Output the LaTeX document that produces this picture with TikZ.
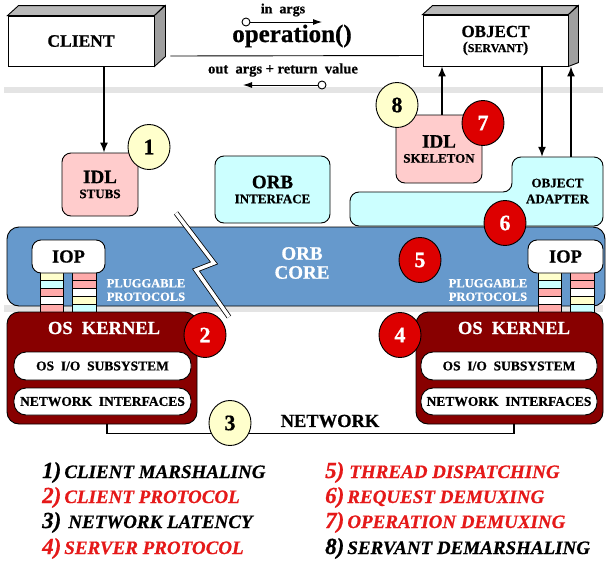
\documentclass[tikz,border=0pt]{standalone}
\usepackage{fontspec}
\setmainfont[BoldFeatures={FakeBold=0.7},BoldItalicFeatures={FakeBold=0.7}]{Liberation Serif}
\usepackage{tikz}
\usetikzlibrary{calc,positioning,shapes.geometric,arrows.meta}

\definecolor{stubpink}{HTML}{FFCCCC}
\definecolor{stripepink}{HTML}{FFAAAA}
\definecolor{orbcyan}{HTML}{CCFFFF}
\definecolor{tagyellow}{HTML}{FFFFCC}
\definecolor{tagred}{HTML}{DD0000}
\definecolor{corecolor}{HTML}{6699CC}
\definecolor{kernelred}{HTML}{880000}
\definecolor{legendred}{HTML}{E51919}
\definecolor{bandgray}{HTML}{E4E4E4}

\begin{document}
\begin{tikzpicture}[x=1pt,y=-1pt]
    \newcommand*{\fsz}[1]{\fontsize{#1}{#1}\selectfont}
    \tikzstyle{front face}=[draw, fill=white, line width=0.9pt, inner sep=0pt, align=center, font=\bfseries];
    \tikzstyle{rounded box}=[draw, rounded corners=9pt, line width=0.9pt, inner sep=0pt, align=center, font=\bfseries];
    \tikzstyle{pill}=[rounded box, fill=white, rounded corners=12pt, font=\bfseries\fsz{13.5}];
    \tikzstyle{yellow tag}=[ellipse, draw, line width=0.9pt, fill=tagyellow, minimum width=42pt, minimum height=45pt, inner sep=0pt, font=\bfseries\fsz{22}];
    \tikzstyle{red tag}=[yellow tag, fill=tagred, text=white];
    \tikzstyle{call}=[-{Latex[length=10pt,width=8pt]}, line width=1.5pt];
    \tikzstyle{arg arrow}=[-{Latex[length=9pt,width=6pt]}, line width=0.9pt];
    \tikzstyle{arg dot}=[draw, circle, fill=white, minimum size=8pt, inner sep=0pt, line width=0.9pt];
    \tikzstyle{white label}=[text=white, align=center, font=\bfseries];
    \tikzstyle{legend}=[anchor=base west, inner sep=0pt, font=\bfseries\itshape];

    \useasboundingbox (0,0) rectangle (606,563);

    \fill[bandgray] (4,87) rectangle (603,93);
    \fill[bandgray] (4,305) rectangle (603,312);

    \node[front face, minimum width=146pt, minimum height=50pt, font=\bfseries\fsz{17.5}] (client) at (81,41) {CLIENT};
    \filldraw[fill=gray!55, line width=0.9pt] (client.north west) -- ++(11,-10) -- ++(146,0) -- (client.north east) -- cycle;
    \filldraw[fill=gray!75, line width=0.9pt] (client.north east) -- ++(11,-10) -- ++(0,51) -- (client.south east) -- cycle;

    \node[front face, minimum width=145pt, minimum height=51pt] (servant) at (495.5,40.5) {\fsz{17}OBJECT\\[3pt]\fsz{15}(\fsz{12}SERVANT\fsz{15})};
    \filldraw[fill=gray!55, line width=0.9pt] (servant.north west) -- ++(10,-9) -- ++(145,0) -- (servant.north east) -- cycle;
    \filldraw[fill=gray!75, line width=0.9pt] (servant.north east) -- ++(10,-9) -- ++(0,57) -- (servant.south east) -- cycle;

    \draw[line width=0.9pt] ([shift={(16,15)}]client.east) -- ([shift={(0,15)}]servant.west);

    \node[font=\bfseries\fsz{14}] (inArgs) at (283,10) {in\ \ args};
    \node[arg dot] (inDot) at (246,22) {};
    \coordinate (inTip) at (322,22);
    \draw[arg arrow] (inDot) -- (inTip);
    \node[font=\bfseries\fsz{25}] (operation) at (292,36) {operation()};
    \node[font=\bfseries\fsz{14.5}] (outArgs) at (283,70) {out\ \ args + return\ \ value};
    \node[arg dot] (outDot) at (322,85) {};
    \coordinate (outTip) at (243,85);
    \draw[arg arrow] (outDot) -- (outTip);

    \node[rounded box, fill=stubpink, minimum width=76pt, minimum height=63pt] (stubs) at (100,184.5) {\fsz{19}IDL\\[3pt]\fsz{13}STUBS};
    \draw[call] ([xshift=4pt]stubs.north |- client.south) -- ([xshift=4pt]stubs.north);
    \node[yellow tag] (tag1) at (149,147) {1};

    \node[rounded box, fill=orbcyan, minimum width=115pt, minimum height=67pt] (orbIface) at (272.5,189.5) {\fsz{19}ORB\\[3pt]\fsz{13}INTERFACE};

    \node[rounded box, fill=stubpink, minimum width=86pt, minimum height=68pt] (skeleton) at (439,149) {\fsz{19}IDL\\[3pt]\fsz{13}SKELETON};
    \draw[call] ([xshift=3pt]skeleton.north) -- ([xshift=3pt]skeleton.north |- servant.south);
    \node[yellow tag] (tag8) at (397,105) {8};
    \node[red tag] (tag7) at (483,123) {7};

    \filldraw[fill=orbcyan, rounded corners=9pt, line width=0.9pt] (350,226) -- (350,192) -- (512,192) -- (512,157) -- (603,157) -- (603,226) -- cycle;
    \node[align=center, font=\bfseries\fsz{13}, minimum width=91pt, minimum height=68pt, inner sep=0pt] (adapter) at (557.5,191) {OBJECT\\[3pt]ADAPTER};
    \draw[call] ([xshift=-15.5pt]adapter.north |- servant.south) -- ([xshift=-15.5pt]adapter.north);
    \draw[call] ([xshift=13.5pt]adapter.north) -- ([xshift=13.5pt]adapter.north |- servant.south);

    \node[draw, fill=corecolor, rounded corners=12pt, minimum width=598pt, minimum height=79pt, line width=0.9pt] (core) at (306,266.5) {};
    \node[white label, font=\bfseries\fsz{19}] (coreLabel) at (302,263) {ORB\\CORE};
    \draw[line width=0.8pt, double=white, double distance=3.5pt] (176,213) -- (214,263) -- (196,270) -- (229,317);

    \foreach \xa in {40, 538} {
      \foreach \c [count=\i from 0] in {tagyellow, orbcyan, stripepink, white, stripepink}
        \filldraw[fill=\c, line width=0.9pt] (\xa,272+8*\i) rectangle ++(23,8);
      \foreach \c [count=\i from 0] in {stripepink, stripepink, white, tagyellow, orbcyan}
        \filldraw[fill=\c, line width=0.9pt] (\xa+32,272+8*\i) rectangle ++(24,8);
    }
    \node[rounded box, fill=white, minimum width=73pt, minimum height=33pt, font=\bfseries\fsz{18.5}] (iopL) at (68.5,256.5) {IOP};
    \node[rounded box, fill=white, minimum width=75pt, minimum height=33pt, font=\bfseries\fsz{18.5}] (iopR) at (565.5,256.5) {IOP};
    \node[white label, font=\bfseries\fsz{12.5}] (plugL) at (146,290) {PLUGGABLE\\[1pt]PROTOCOLS};
    \node[white label, font=\bfseries\fsz{12.5}] (plugR) at (488,290) {PLUGGABLE\\[1pt]PROTOCOLS};
    \node[red tag] (tag5) at (420,260) {5};
    \node[red tag] (tag6) at (505,223) {6};

    \node[draw, fill=kernelred, rounded corners=12pt, minimum width=190pt, minimum height=112pt, line width=0.9pt] (kernelL) at (102,368) {};
    \node[draw, fill=kernelred, rounded corners=12pt, minimum width=187pt, minimum height=112pt, line width=0.9pt] (kernelR) at (509.5,368) {};
    \node[white label, font=\bfseries\fsz{18.5}] (osL) at (104,328) {OS\ \ KERNEL};
    \node[white label, font=\bfseries\fsz{18.5}] (osR) at (514,328) {OS\ \ KERNEL};
    \node[pill, minimum width=177pt, minimum height=28pt] (ioL) at (102.5,366) {OS\ \ I/O\ \ SUBSYSTEM};
    \node[pill, minimum width=177pt, minimum height=27pt] (nicL) at (102.5,401.5) {NETWORK\ \ INTERFACES};
    \node[pill, minimum width=176pt, minimum height=28pt] (ioR) at (509,366) {OS\ \ I/O\ \ SUBSYSTEM};
    \node[pill, minimum width=176pt, minimum height=27pt] (nicR) at (509,401.5) {NETWORK\ \ INTERFACES};
    \node[red tag] (tag2) at (205,335) {2};
    \node[red tag] (tag4) at (400,335) {4};

    \draw[line width=1.5pt] ([xshift=5pt]kernelL.south) -- ++(0,9) -| ([xshift=4.5pt]kernelR.south);
    \node[yellow tag] (tag3) at (230,423) {3};
    \node[font=\bfseries\fsz{18.5}] (network) at (330,421) {NETWORK};

    \node[legend] (note1) at (42,478) {\fsz{23}1)\hspace{3pt}\fsz{19}CLIENT MARSHALING};
    \node[legend, text=legendred] (note2) at (42,503) {\fsz{23}2)\hspace{3pt}\fsz{19}CLIENT PROTOCOL};
    \node[legend] (note3) at (42,528) {\fsz{23}3)\hspace{7pt}\fsz{19}NETWORK LATENCY};
    \node[legend, text=legendred] (note4) at (42,554) {\fsz{23}4)\hspace{3pt}\fsz{19}SERVER PROTOCOL};
    \node[legend, text=legendred] (note5) at (325,478) {\fsz{23}5)\hspace{5pt}\fsz{19}THREAD DISPATCHING};
    \node[legend, text=legendred] (note6) at (325,503) {\fsz{23}6)\hspace{3pt}\fsz{19}REQUEST DEMUXING};
    \node[legend, text=legendred] (note7) at (325,528) {\fsz{23}7)\hspace{3pt}\fsz{19}OPERATION DEMUXING};
    \node[legend] (note8) at (325,554) {\fsz{23}8)\hspace{3pt}\fsz{19}SERVANT DEMARSHALING};
  \end{tikzpicture}
\end{document}
